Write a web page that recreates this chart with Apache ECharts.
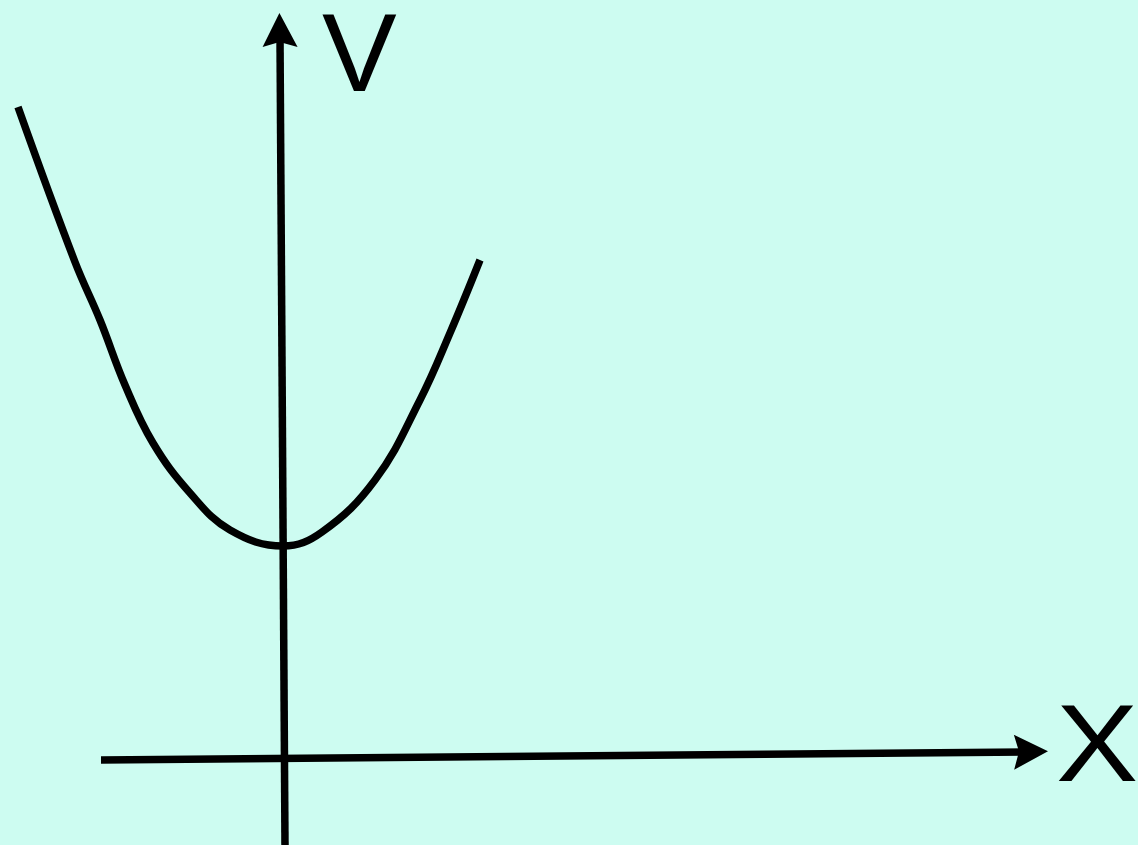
<!DOCTYPE html>
<html>
<head>
<meta charset="utf-8">
<script src="https://cdn.jsdelivr.net/npm/echarts@6/dist/echarts.min.js"></script>
<style>
  html, body { margin: 0; padding: 0; background: #cdfcf1; }
  #chart { width: 1138px; height: 845px; }
</style>
</head>
<body>
<div id="chart"></div>
<script>
// curve points, x to the right, v upwards (picture units)
var curveX = [18, 75, 100, 125, 153, 190, 230, 283, 322, 375, 420, 450, 480]
var curveV = [738, 583, 525, 460, 402, 352, 315, 299, 313, 365, 445, 512, 585]
// axis shafts [start, end] and arrow heads [x, v, rotation]
var vShaft = [[285, 0], [280, 808]]
var xShaft = [[101, 85], [1025, 93]]
var arrowHeads = [[280, 815, 0.3], [1031, 93, -89.5]]
var axisNames = ['V', 'X']

var arrowPath = 'path://M17,0 L35,34 L17,29 L0,34 Z'

var chart = echarts.init(document.getElementById('chart'))
chart.setOption({
  backgroundColor: '#cdfcf1',
  animation: false,
  grid: { left: 0, right: 0, top: 0, bottom: 0 },
  xAxis: { type: 'value', min: 0, max: 1138, show: false },
  yAxis: { type: 'value', min: 0, max: 845, show: false },
  series: [
    {
      type: 'line',
      data: curveX.map(function (x, i) { return [x, curveV[i]] }),
      smooth: 0.4,
      symbol: 'none',
      lineStyle: { color: '#000', width: 7.5, cap: 'butt' }
    },
    {
      type: 'line',
      data: vShaft,
      symbol: 'none',
      lineStyle: { color: '#000', width: 7.5, cap: 'butt' }
    },
    {
      type: 'line',
      data: xShaft,
      symbol: 'none',
      lineStyle: { color: '#000', width: 7.5, cap: 'butt' }
    },
    {
      type: 'scatter',
      data: arrowHeads.map(function (a) {
        return { value: [a[0], a[1]], symbolRotate: a[2] }
      }),
      symbol: arrowPath,
      symbolSize: [35, 34],
      itemStyle: { color: '#000', opacity: 1 }
    }
  ],
  graphic: [
    {
      type: 'text', left: 322, top: 4,
      style: { text: axisNames[0], font: '112px "Liberation Sans"', fill: '#000' }
    },
    {
      type: 'text', left: 1056, top: 696, scaleX: 1.12,
      style: { text: axisNames[1], font: '110px "Liberation Sans"', fill: '#000' }
    }
  ]
})
</script>
</body>
</html>
